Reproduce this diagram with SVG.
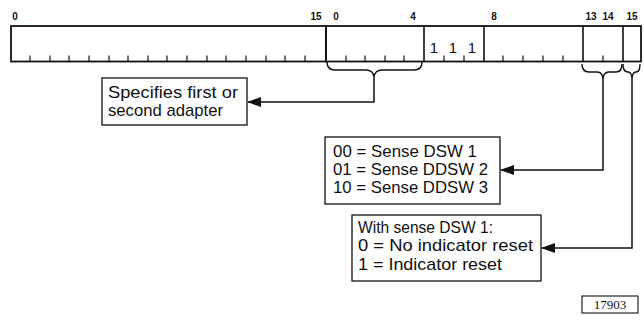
<svg xmlns="http://www.w3.org/2000/svg" width="644" height="320" viewBox="0 0 644 320">
<defs>
<marker id="ah" markerWidth="14" markerHeight="10" refX="13" refY="5" orient="auto" markerUnits="userSpaceOnUse"><path d="M0,0 L14,5 L0,10 Z" fill="#111"/></marker>
</defs>
<style>
.reg{fill:none;stroke:#111;stroke-width:1.8}
.div{stroke:#111;stroke-width:1.6}
.tick{stroke:#111;stroke-width:1.2}
.bl{font-family:"Liberation Sans",Arial,sans-serif;font-size:10px;font-weight:bold;fill:#111;text-anchor:middle}
.box{fill:#fff;stroke:#111;stroke-width:1.3}
.t{font-family:"Liberation Sans",Arial,sans-serif;font-size:17px;fill:#111}
.one{font-family:"Liberation Sans",Arial,sans-serif;font-size:15px;fill:#111;text-anchor:middle}
.con{fill:none;stroke:#111;stroke-width:1.5}
.br{fill:none;stroke:#111;stroke-width:1.4}
</style>
<rect width="644" height="320" fill="#fff"/>
<g id="register1">
<rect class="reg" x="11" y="26" width="315" height="35.5"/>
<g class="tick">
<line x1="30" y1="55.5" x2="30" y2="61.5"/><line x1="50" y1="55.5" x2="50" y2="61.5"/><line x1="69" y1="55.5" x2="69" y2="61.5"/><line x1="89" y1="55.5" x2="89" y2="61.5"/><line x1="109" y1="55.5" x2="109" y2="61.5"/><line x1="128" y1="55.5" x2="128" y2="61.5"/><line x1="148" y1="55.5" x2="148" y2="61.5"/><line x1="167" y1="55.5" x2="167" y2="61.5"/><line x1="187" y1="55.5" x2="187" y2="61.5"/><line x1="207" y1="55.5" x2="207" y2="61.5"/><line x1="226" y1="55.5" x2="226" y2="61.5"/><line x1="246" y1="55.5" x2="246" y2="61.5"/><line x1="266" y1="55.5" x2="266" y2="61.5"/><line x1="285" y1="55.5" x2="285" y2="61.5"/><line x1="305" y1="55.5" x2="305" y2="61.5"/>
</g>
<text class="bl" x="15" y="20">0</text>
<text class="bl" x="316" y="20">15</text>
</g>
<g id="register2">
<rect class="reg" x="326" y="26" width="315" height="35.5"/>
<line class="div" x1="424" y1="26" x2="424" y2="61.5"/>
<line class="div" x1="484" y1="26" x2="484" y2="61.5"/>
<line class="div" x1="583" y1="26" x2="583" y2="61.5"/>
<line class="div" x1="623" y1="26" x2="623" y2="61.5"/>
<g class="tick">
<line x1="346" y1="55.5" x2="346" y2="61.5"/><line x1="365" y1="55.5" x2="365" y2="61.5"/><line x1="385" y1="55.5" x2="385" y2="61.5"/><line x1="404" y1="55.5" x2="404" y2="61.5"/><line x1="444" y1="55.5" x2="444" y2="61.5"/><line x1="464" y1="55.5" x2="464" y2="61.5"/><line x1="503" y1="55.5" x2="503" y2="61.5"/><line x1="523" y1="55.5" x2="523" y2="61.5"/><line x1="543" y1="55.5" x2="543" y2="61.5"/><line x1="563" y1="55.5" x2="563" y2="61.5"/><line x1="603" y1="55.5" x2="603" y2="61.5"/>
</g>
<text class="one" x="434" y="53">1</text>
<text class="one" x="453" y="53">1</text>
<text class="one" x="472" y="53">1</text>
<text class="bl" x="336" y="20">0</text>
<text class="bl" x="413" y="20">4</text>
<text class="bl" x="494" y="20">8</text>
<text class="bl" x="591" y="20">13</text>
<text class="bl" x="608" y="20">14</text>
<text class="bl" x="632" y="20">15</text>
</g>
<g id="connectors">
<path class="br" d="M327,62 Q327,70 335,70 L366,70 Q373,70 374,77 Q375,70 382,70 L414,70 Q422,70 422,62"/>
<path class="br" d="M582,64 Q582,72 589,72 L597,72 Q603,72 603,80 Q603,72 609,72 L616,72 Q622,72 622,64"/>
<path class="br" d="M623,64 Q623,72 628,72 Q632,72 632,80 Q632,72 636,72 Q640,72 640,64"/>
<path class="con" d="M374,77 L374,102 L248,102" marker-end="url(#ah)"/>
<path class="con" d="M603,80 L603,170 L501,170" marker-end="url(#ah)"/>
<path class="con" d="M632,80 L632,248 L542,248" marker-end="url(#ah)"/>
</g>
<g id="adapter-box">
<rect class="box" x="102" y="78" width="145" height="47"/>
<text class="t" x="108" y="98" textLength="130" lengthAdjust="spacingAndGlyphs">Specifies first or</text>
<text class="t" x="108" y="116" textLength="115" lengthAdjust="spacingAndGlyphs">second adapter</text>
</g>
<g id="sense-box">
<rect class="box" x="325" y="137" width="175" height="67"/>
<text class="t" x="333" y="157" textLength="144" lengthAdjust="spacingAndGlyphs">00 = Sense DSW 1</text>
<text class="t" x="333" y="175" textLength="155" lengthAdjust="spacingAndGlyphs">01 = Sense DDSW 2</text>
<text class="t" x="333" y="193" textLength="155" lengthAdjust="spacingAndGlyphs">10 = Sense DDSW 3</text>
</g>
<g id="reset-box">
<rect class="box" x="352" y="215" width="189" height="66"/>
<text class="t" x="358" y="233" textLength="135" lengthAdjust="spacingAndGlyphs">With sense DSW 1:</text>
<text class="t" x="358" y="251" textLength="175" lengthAdjust="spacingAndGlyphs">0 = No indicator reset</text>
<text class="t" x="358" y="270" textLength="144" lengthAdjust="spacingAndGlyphs">1 = Indicator reset</text>
</g>
<g id="figure-number">
<rect x="582" y="296" width="56" height="17" fill="#fff" stroke="#111" stroke-width="1.1"/>
<text x="610" y="309" text-anchor="middle" font-family="'Liberation Serif','Times New Roman',serif" font-size="13" fill="#111">17903</text>
</g>
</svg>
